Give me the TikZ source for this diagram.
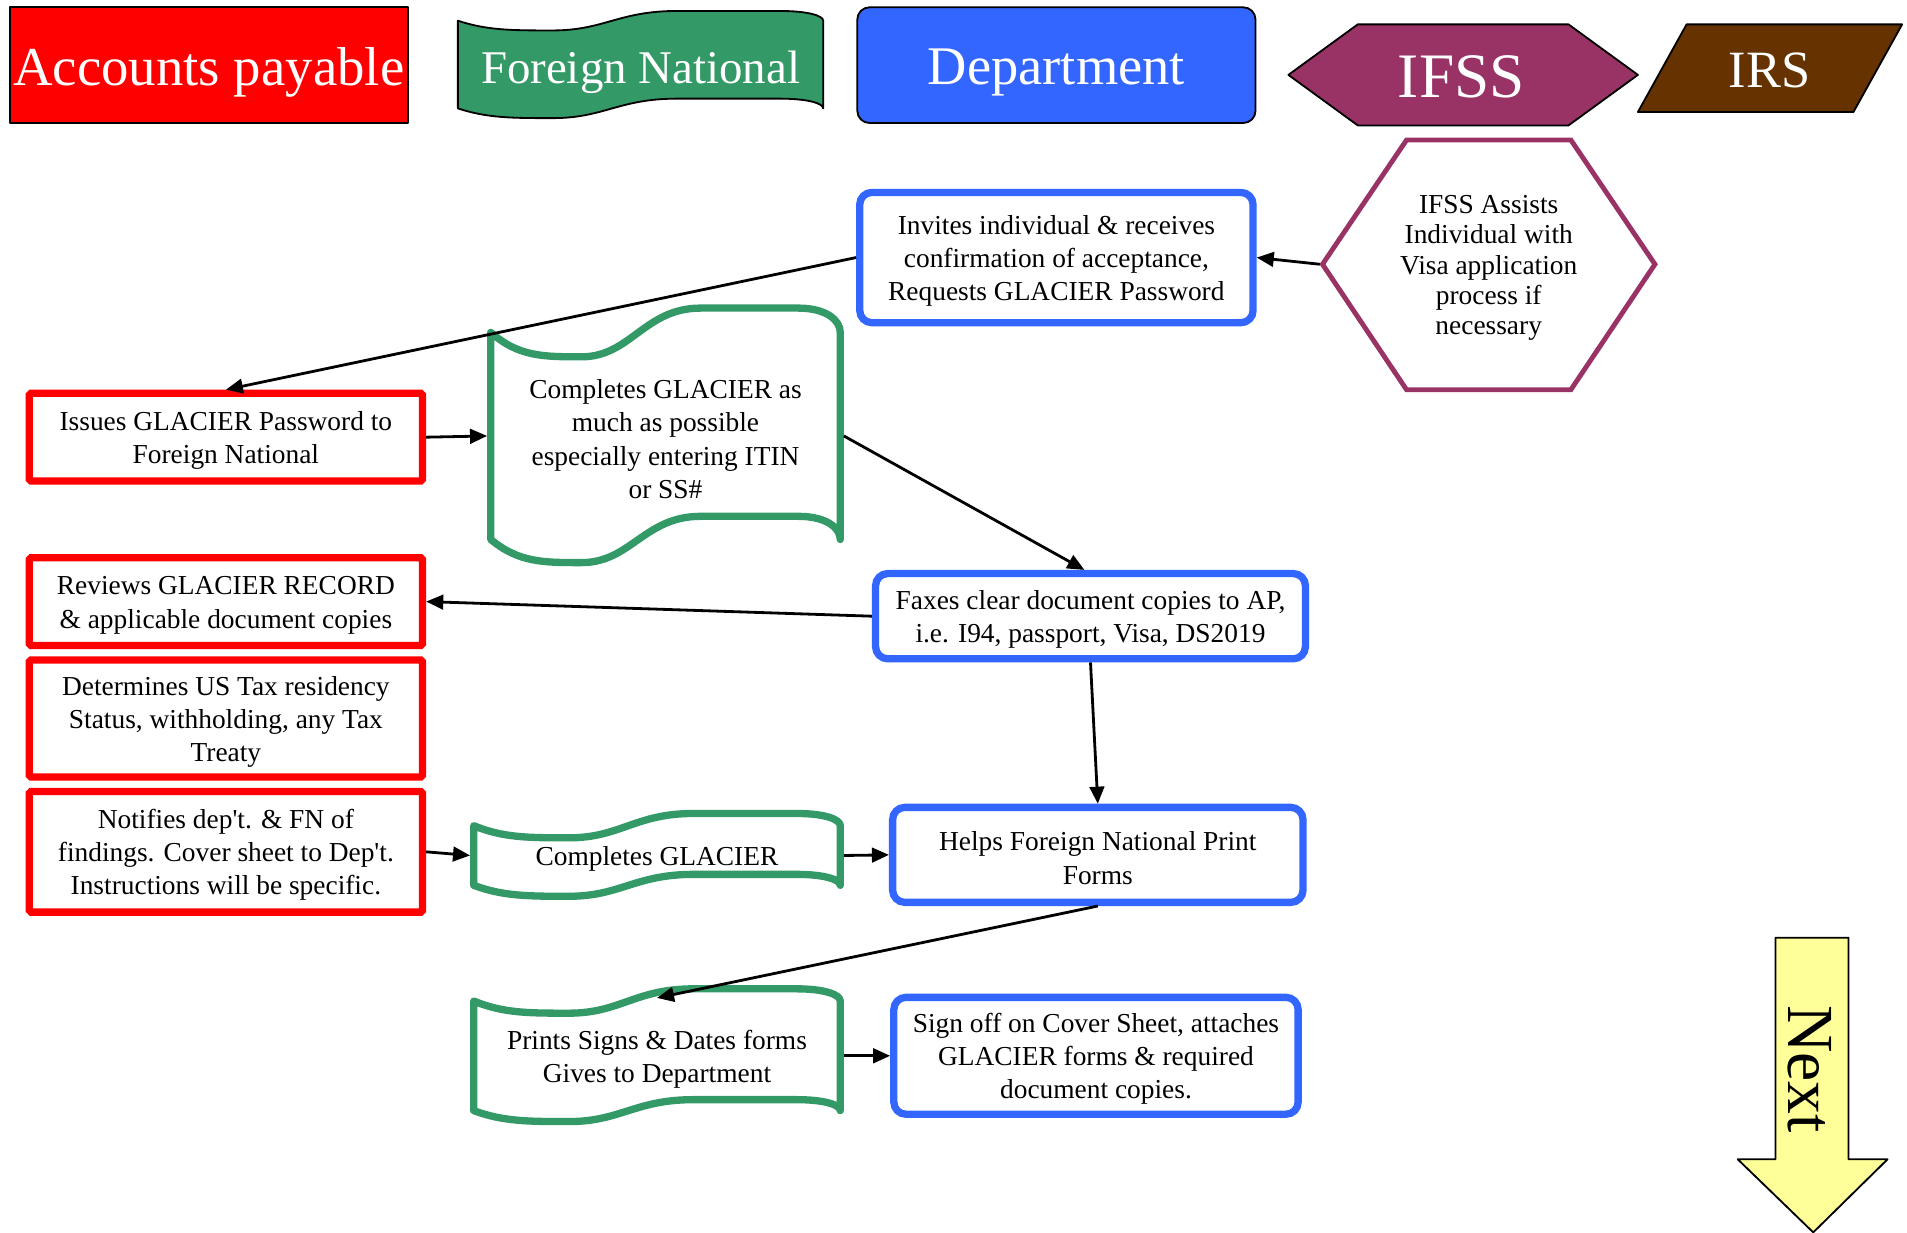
\documentclass[tikz,border=0pt]{standalone}
\usepackage{fontspec}
\setmainfont{Liberation Serif}
\usetikzlibrary{arrows.meta,calc}
\definecolor{apred}{HTML}{FF0000}
\definecolor{fngreen}{HTML}{339966}
\definecolor{dpblue}{HTML}{3366FF}
\definecolor{ifpurple}{HTML}{993366}
\definecolor{irsbrown}{HTML}{663300}
\definecolor{nextyellow}{HTML}{FFFF99}
% #1 style, #2 x0, #3 x1, #4 y top, #5 y bottom, #6 top amplitude, #7 bottom amplitude
\newcommand\tapeshape[7]{%
\draw[#1] (#2,#4)
 .. controls ({#2+0.08*(#3-#2)},{#4+#6}) and ({#2+0.15*(#3-#2)},{#4+#6}) .. ({#2+0.26*(#3-#2)},{#4+#6})
 .. controls ({#2+0.40*(#3-#2)},{#4+#6}) and ({#2+0.44*(#3-#2)},{#4-#6}) .. ({#2+0.60*(#3-#2)},{#4-#6})
 -- ({#2+0.88*(#3-#2)},{#4-#6})
 .. controls ({#2+0.96*(#3-#2)},{#4-#6}) and (#3,{#4-0.5*#6}) .. (#3,#4)
 -- (#3,#5)
 .. controls (#3,{#5-0.5*#7}) and ({#2+0.96*(#3-#2)},{#5-#7}) .. ({#2+0.88*(#3-#2)},{#5-#7})
 -- ({#2+0.60*(#3-#2)},{#5-#7})
 .. controls ({#2+0.44*(#3-#2)},{#5-#7}) and ({#2+0.40*(#3-#2)},{#5+#7}) .. ({#2+0.26*(#3-#2)},{#5+#7})
 .. controls ({#2+0.15*(#3-#2)},{#5+#7}) and ({#2+0.08*(#3-#2)},{#5+#7}) .. (#2,#5)
 -- cycle;}
\newcommand\tstrut[1]{\rule{0pt}{#1}}
\newcommand\fs{\tstrut{21pt}}
\tikzset{
  bodytext/.style={font=\fontsize{22.5}{27.3}\selectfont, align=center},
  apbox/.style={bodytext, draw=apred, line width=6pt, fill=white, rounded corners=1.5pt, inner sep=0pt, minimum width=323pt},
  dpbox/.style={bodytext, draw=dpblue, line width=6pt, fill=white, rounded corners=10pt, inner sep=0pt},
  fnline/.style={draw=fngreen, line width=6pt, fill=white, line join=round},
  fntext/.style={bodytext, inner sep=0pt, outer sep=0pt},
  hdrline/.style={draw=black, line width=1.5pt, line join=round},
  hdrtext/.style={text=white, inner sep=0pt},
  conn/.style={line width=2.3pt, -{Triangle[length=14pt,width=12pt]}},
}
\begin{document}
\begin{tikzpicture}[x=1pt, y=-1pt]
\useasboundingbox[fill=white] (0,0) rectangle (1566,1012);

% ---------- header ----------
\node[hdrline, fill=apred, minimum width=327pt, minimum height=95pt, inner sep=0pt,
      text=white, font=\fontsize{45}{54}\selectfont] (hap) at (171.5,53.5) {\tstrut{43pt}Accounts payable};

\tapeshape{hdrline, fill=fngreen}{376}{676}{17}{89}{8}{8}
\node[hdrtext, font=\fontsize{38.5}{46}\selectfont] (hfn) at (526,59) {Foreign National};

\node[hdrline, fill=dpblue, rounded corners=10pt, minimum width=327pt, minimum height=95pt,
      inner sep=0pt, text=white, font=\fontsize{44.7}{54}\selectfont] (hdp) at (867.5,53.5) {\tstrut{42pt}Department};

\draw[hdrline, fill=ifpurple] (1058,61.5) -- (1115,20) -- (1288,20) -- (1345,61.5) -- (1288,103) -- (1115,103) -- cycle;
\node[hdrtext, font=\fontsize{52}{62}\selectfont] (hif) at (1200,63) {IFSS};

\draw[hdrline, fill=irsbrown] (1385,20) -- (1562,20) -- (1522,92) -- (1345,92) -- cycle;
\node[hdrtext, font=\fontsize{43}{52}\selectfont] (hirs) at (1453,58) {IRS};

% ---------- body ----------
\node[dpbox, minimum width=323pt, minimum height=107pt] (inv) at (867.5,211.5)
  {\fs Invites individual \& receives\\confirmation of acceptance,\\Requests GLACIER Password};

\draw[draw=ifpurple, line width=4pt, fill=white, line join=miter]
  (1086,217) -- (1155,115) -- (1290,115) -- (1359,217) -- (1290,320) -- (1155,320) -- cycle;
\node[bodytext, font=\fontsize{22.5}{24.8}\selectfont, inner sep=0pt, minimum width=277pt, minimum height=205pt] (hex) at (1222.5,217)
  {\fs IFSS Assists\\Individual with\\Visa application\\process if\\necessary};

\node[apbox, minimum height=72pt] (iss) at (185.5,359)
  {\fs Issues GLACIER Password to\\Foreign National};

\tapeshape{fnline}{403}{690}{273}{443}{20}{19}
\node[fntext, minimum width=293pt, minimum height=175pt] (cg1) at (546.5,358)
  {\fs Completes GLACIER as\\much as possible\\especially entering ITIN\\or SS\#};

\node[dpbox, minimum width=353pt, minimum height=70pt] (fax) at (895.5,506)
  {\fs Faxes clear document copies to AP,\\i.e. I94, passport, Visa, DS2019};

\node[apbox, minimum height=72pt] (rev) at (185.5,494)
  {\fs Reviews GLACIER RECORD\\\& applicable document copies};
\node[apbox, minimum height=96pt] (det) at (185.5,590)
  {\fs Determines US Tax residency\\Status, withholding, any Tax\\Treaty};
\node[apbox, minimum height=99pt] (noti) at (185.5,699.5)
  {\fs Notifies dep\textquotesingle t. \& FN of\\findings. Cover sheet to Dep\textquotesingle t.\\Instructions will be specific.};

\tapeshape{fnline}{389}{690}{678}{727}{10}{9}
\node[fntext, minimum width=307pt, minimum height=54pt] (cg2) at (539.5,702.5) {\fs Completes GLACIER};

\node[dpbox, minimum width=337pt, minimum height=78pt] (help) at (901.5,702)
  {\fs Helps Foreign National Print\\Forms};

\tapeshape{fnline}{389}{690}{822}{912}{10}{9}
\node[fntext, minimum width=307pt, minimum height=95pt] (prt) at (539.5,867)
  {\fs Prints Signs \& Dates forms\\Gives to Department};

\node[dpbox, minimum width=332pt, minimum height=96pt] (sign) at (900,867)
  {\fs Sign off on Cover Sheet, attaches\\GLACIER forms \& required\\document copies.};

% ---------- Next arrow ----------
\draw[hdrline, fill=nextyellow] (1458,770) -- (1518,770) -- (1518,952) -- (1550,952) -- (1489,1012)
  -- (1427,952) -- (1458,952) -- cycle;
\node[rotate=-90, inner sep=0pt, font=\fontsize{54}{64}\selectfont] (nxt) at (1486,878) {Next};

% ---------- connectors ----------
\draw[conn] (hex.west) -- (inv.east);
\draw[conn] (inv.west) -- (iss.north);
\draw[conn] (iss.east) -- (cg1.west);
\draw[conn] (cg1.east) -- ($(fax.north)+(-5,0)$);
\draw[conn] (fax.west) -- (rev.east);
\draw[conn] (fax.south) -- (help.north);
\draw[conn] (noti.east) -- (cg2.west);
\draw[conn] (cg2.east) -- (help.west);
\draw[conn] (help.south) -- (prt.north);
\draw[conn] (prt.east) -- (sign.west);
\end{tikzpicture}
\end{document}
